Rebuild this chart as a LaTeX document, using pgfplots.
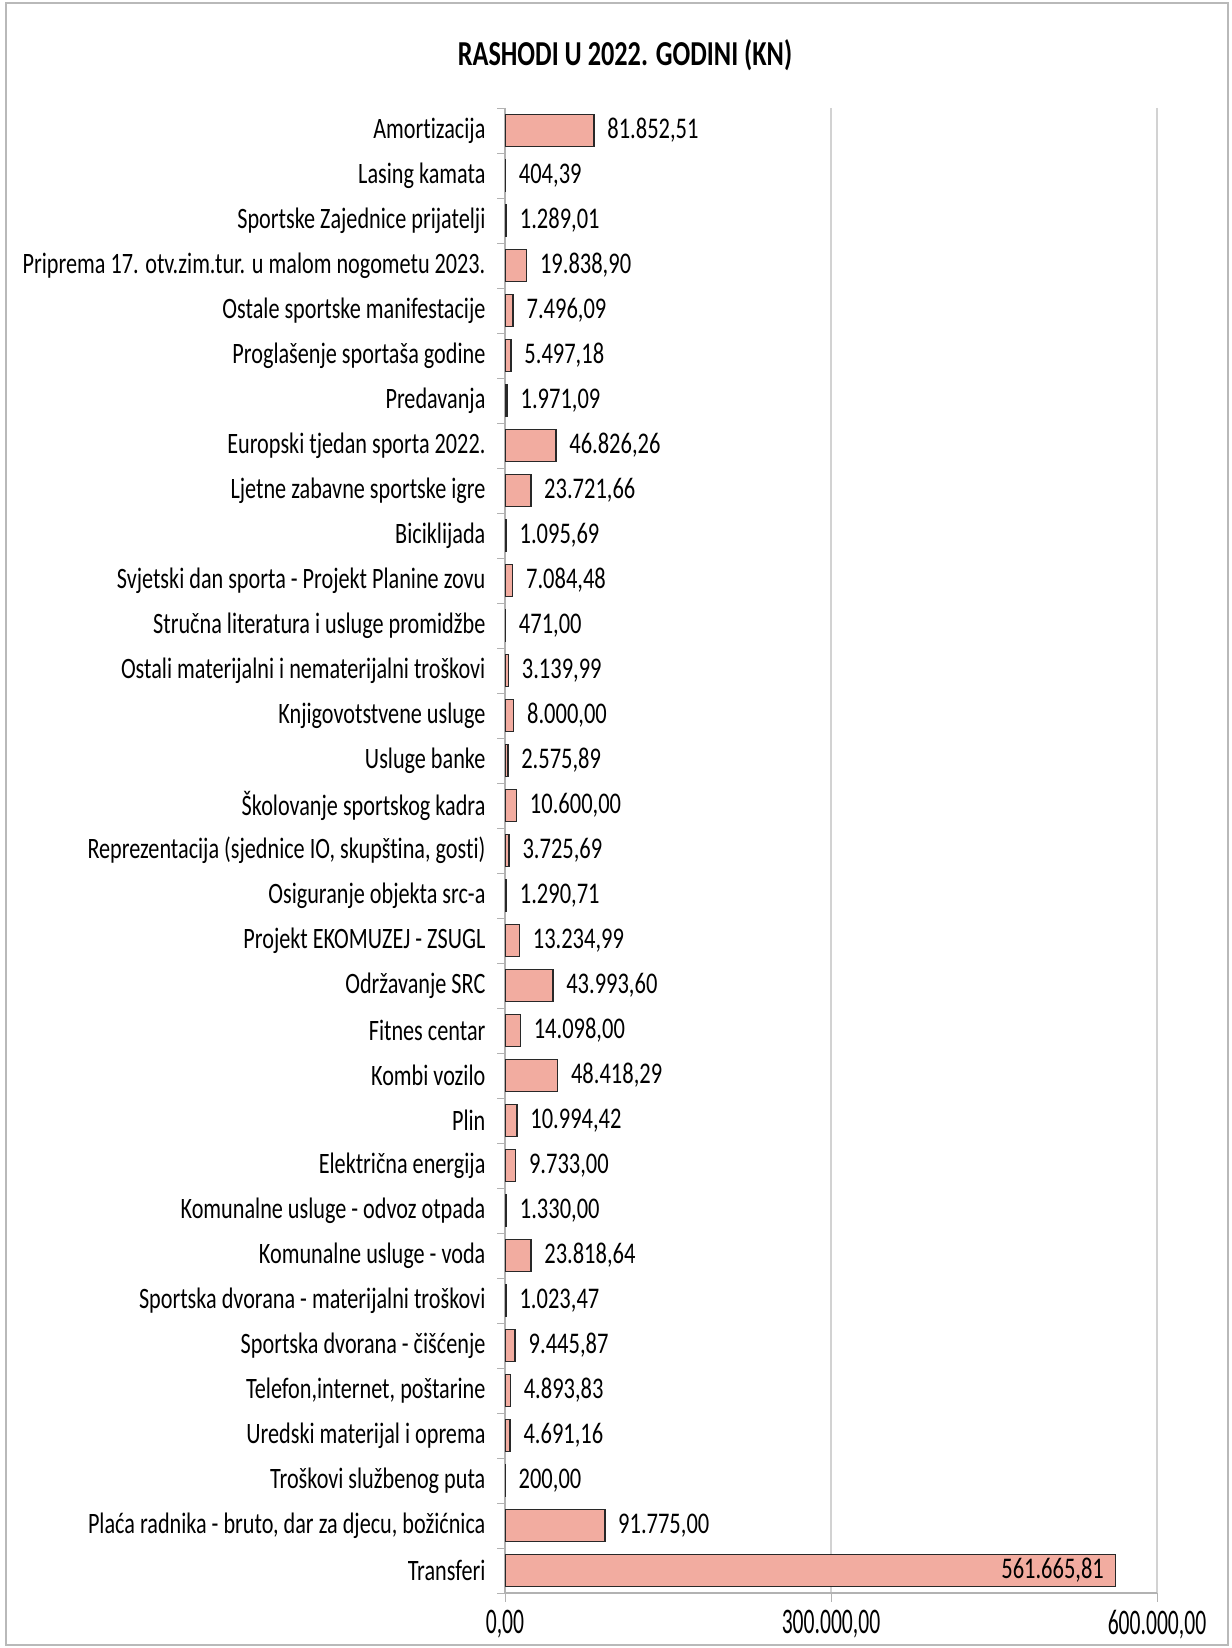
\documentclass[border=0pt]{standalone}
\usepackage{fontspec}
\setmainfont{Carlito}[FakeStretch=0.75, Ligatures={NoCommon}]
\newfontfamily\tickfont{Carlito}[FakeStretch=0.6, Ligatures={NoCommon}]
\usepackage{pgfplots}
\usepackage{pgfplotstable}
\pgfplotsset{compat=1.18}

\definecolor{barfill}{RGB}{242,172,160}
\definecolor{barline}{RGB}{40,40,40}

% idx 0 = top category
\pgfplotstableread{
idx val lab
0 81852.51 81.852,51
1 404.39 404,39
2 1289.01 1.289,01
3 19838.90 19.838,90
4 7496.09 7.496,09
5 5497.18 5.497,18
6 1971.09 1.971,09
7 46826.26 46.826,26
8 23721.66 23.721,66
9 1095.69 1.095,69
10 7084.48 7.084,48
11 471.00 471,00
12 3139.99 3.139,99
13 8000.00 8.000,00
14 2575.89 2.575,89
15 10600.00 10.600,00
16 3725.69 3.725,69
17 1290.71 1.290,71
18 13234.99 13.234,99
19 43993.60 43.993,60
20 14098.00 14.098,00
21 48418.29 48.418,29
22 10994.42 10.994,42
23 9733.00 9.733,00
24 1330.00 1.330,00
25 23818.64 23.818,64
26 1023.47 1.023,47
27 9445.87 9.445,87
28 4893.83 4.893,83
29 4691.16 4.691,16
30 200.00 200,00
31 91775.00 91.775,00
}\rashodi

\pgfplotstableread{
idx val lab
32 561665.81 561.665,81
}\transferi

\begin{document}
\begin{tikzpicture}
\useasboundingbox (0,0) rectangle (615.5pt,824pt);
\draw[gray!55, line width=1pt] (3pt,1.5pt) rectangle (614pt,822.5pt);
\node[font=\bfseries\fontsize{17.5}{20}\selectfont] at (312.5pt,796.5pt) {RASHODI U 2022. GODINI (KN)};
\begin{axis}[
    at={(252.5pt,27.5pt)}, anchor=south west,
    scale only axis,
    width=326pt, height=742.5pt,
    xbar, bar width=16pt,
    xmin=0, xmax=600000,
    ymin=-0.5, ymax=32.5,
    y dir=reverse,
    enlarge y limits=false,
    axis x line*=bottom,
    axis y line*=left,
    axis line style={gray!60, line width=0.8pt},
    scaled x ticks=false,
    xtick={0,300000,600000},
    xticklabels={{0,00},{300.000,00},{600.000,00}},
    xticklabel style={font=\tickfont\fontsize{18}{20}\selectfont, yshift=-1pt},
    xmajorgrids,
    grid style={gray!35, line width=0.8pt},
    major x tick style={gray!60},
    ytick={0,...,32},
    major y tick style={draw=none},
    minor ytick={-0.5,0.5,...,32.5},
    minor y tick style={gray!60},
    minor tick length=4pt,
    tick align=outside,
    yticklabels={
      {Amortizacija},
      {Lasing kamata},
      {Sportske Zajednice prijatelji},
      {Priprema 17. otv.zim.tur. u malom nogometu 2023.},
      {Ostale sportske manifestacije},
      {Proglašenje sportaša godine},
      {Predavanja},
      {Europski tjedan sporta 2022.},
      {Ljetne zabavne sportske igre},
      {Biciklijada},
      {Svjetski dan sporta - Projekt Planine zovu},
      {Stručna literatura i usluge promidžbe},
      {Ostali materijalni i nematerijalni troškovi},
      {Knjigovotstvene usluge},
      {Usluge banke},
      {Školovanje sportskog kadra},
      {Reprezentacija (sjednice IO, skupština, gosti)},
      {Osiguranje objekta src-a},
      {Projekt EKOMUZEJ - ZSUGL},
      {Održavanje SRC},
      {Fitnes centar},
      {Kombi vozilo},
      {Plin},
      {Električna energija},
      {Komunalne usluge - odvoz otpada},
      {Komunalne usluge - voda},
      {Sportska dvorana - materijalni troškovi},
      {Sportska dvorana - čišćenje},
      {Telefon,internet, poštarine},
      {Uredski materijal i oprema},
      {Troškovi službenog puta},
      {Plaća radnika - bruto, dar za djecu, božićnica},
      {Transferi}},
    yticklabel style={font=\fontsize{14.8}{16}\selectfont, xshift=-2pt},
    nodes near coords,
    point meta=explicit symbolic,
    every node near coord/.append style={font=\fontsize{15}{17}\selectfont, black},
]
\addplot[fill=barfill, draw=barline, line width=0.8pt, bar shift=0pt,
    every node near coord/.append style={anchor=west, xshift=3pt}]
    table[x=val, y=idx, meta=lab] {\rashodi};
\addplot[fill=barfill, draw=barline, line width=0.8pt, bar shift=0pt,
    every node near coord/.append style={anchor=east, xshift=-2pt}]
    table[x=val, y=idx, meta=lab] {\transferi};
\end{axis}
\end{tikzpicture}
\end{document}
